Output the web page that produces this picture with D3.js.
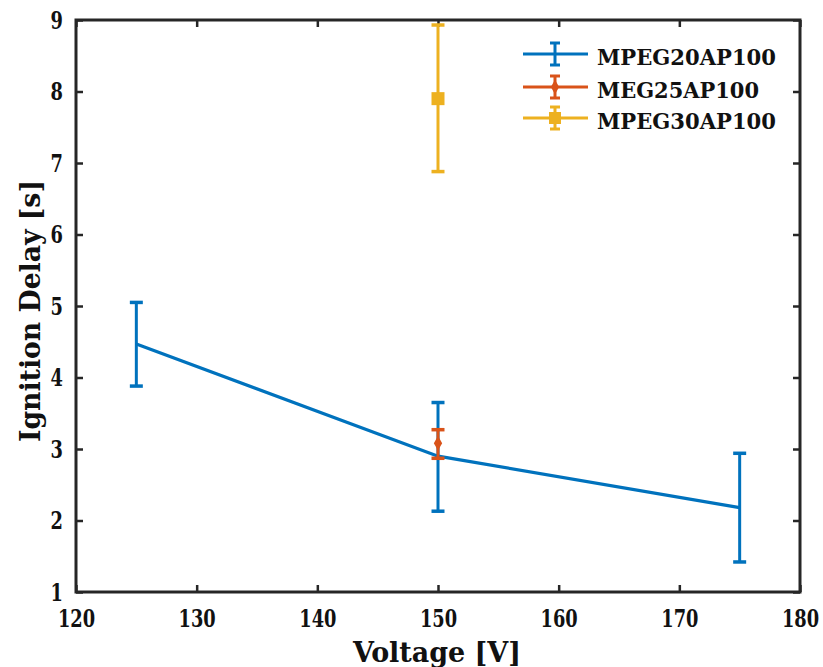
<!DOCTYPE html>
<html>
<head>
<meta charset="utf-8">
<script src="https://cdn.jsdelivr.net/npm/d3@7"></script>
<style>
  html, body { margin: 0; padding: 0; background: #fff; }
</style>
</head>
<body>
<svg id="chart" width="823" height="667"></svg>
<script>
// Ignition delay vs. voltage, three propellant formulations
const voltages = [125, 150, 175];
const mpeg20Mean = [4.47, 2.90, 2.18];
const mpeg20Lo   = [3.88, 2.13, 1.42];
const mpeg20Hi   = [5.05, 3.65, 2.94];

const meg25Volt = [150];
const meg25Mean = [3.08];
const meg25Lo   = [2.87];
const meg25Hi   = [3.27];

const mpeg30Volt = [150];
const mpeg30Mean = [7.90];
const mpeg30Lo   = [6.88];
const mpeg30Hi   = [8.93];

const seriesNames = ["MPEG20AP100", "MEG25AP100", "MPEG30AP100"];
const xTicks = [120, 130, 140, 150, 160, 170, 180];
const yTicks = [1, 2, 3, 4, 5, 6, 7, 8, 9];

const colors = ["#0072BD", "#D95319", "#EDB120"];
const FONT = "'DejaVu Serif Condensed', 'DejaVu Serif', serif";

const svg = d3.select("#chart");
const plotL = 76, plotR = 800, plotT = 20, plotB = 592;

const x = d3.scaleLinear().domain([120, 180]).range([plotL, plotR]);
const y = d3.scaleLinear().domain([1, 9]).range([plotB, plotT]);

const axisColor = "#262626";
const tickLen = 7;

// Serif glyphs are narrowed to the width of a Times-like face
const digitW = 12.4;
function fitTicks(g) {
  g.selectAll(".tick text")
    .attr("fill", "#111")
    .attr("lengthAdjust", "spacingAndGlyphs")
    .attr("textLength", function () { return this.textContent.length * digitW; });
}

// Axes with inward ticks
const gx = svg.append("g").attr("transform", `translate(0,${plotB})`)
  .call(d3.axisBottom(x).tickValues(xTicks).tickSizeInner(-tickLen).tickSizeOuter(0).tickPadding(17));
const gxTop = svg.append("g").attr("transform", `translate(0,${plotT})`)
  .call(d3.axisTop(x).tickValues(xTicks).tickSizeInner(-tickLen).tickSizeOuter(0).tickFormat(""));
const gy = svg.append("g").attr("transform", `translate(${plotL},0)`)
  .call(d3.axisLeft(y).tickValues(yTicks).tickSizeInner(-tickLen).tickSizeOuter(0).tickPadding(13));
const gyRight = svg.append("g").attr("transform", `translate(${plotR},0)`)
  .call(d3.axisRight(y).tickValues(yTicks).tickSizeInner(-tickLen).tickSizeOuter(0).tickFormat(""));

[gx, gxTop, gy, gyRight].forEach(g => {
  g.attr("font-family", FONT).attr("font-size", 25).attr("font-weight", "bold");
  g.select(".domain").remove();
  g.selectAll(".tick line").attr("stroke", axisColor).attr("stroke-width", 2.5);
  fitTicks(g);
});

// Box frame
svg.append("rect")
  .attr("x", plotL).attr("y", plotT)
  .attr("width", plotR - plotL).attr("height", plotB - plotT)
  .attr("fill", "none").attr("stroke", axisColor).attr("stroke-width", 3);

// Axis titles
svg.append("text")
  .attr("x", 437).attr("y", 662)
  .attr("text-anchor", "middle").attr("fill", "#111")
  .attr("font-family", FONT).attr("font-weight", "bold").attr("font-size", 27)
  .attr("textLength", 168).attr("lengthAdjust", "spacingAndGlyphs")
  .text("Voltage [V]");
svg.append("text")
  .attr("transform", `translate(40,311) rotate(-90)`)
  .attr("text-anchor", "middle").attr("fill", "#111")
  .attr("font-family", FONT).attr("font-weight", "bold").attr("font-size", 27)
  .attr("textLength", 262).attr("lengthAdjust", "spacingAndGlyphs")
  .text("Ignition Delay [s]");

const capHalf = 6.5;
function errorBars(g, xs, lo, hi, color) {
  xs.forEach((v, i) => {
    const cx = x(v);
    g.append("line").attr("x1", cx).attr("x2", cx).attr("y1", y(lo[i])).attr("y2", y(hi[i]))
      .attr("stroke", color).attr("stroke-width", 3);
    [lo[i], hi[i]].forEach(e => {
      g.append("line").attr("x1", cx - capHalf).attr("x2", cx + capHalf)
        .attr("y1", y(e)).attr("y2", y(e))
        .attr("stroke", color).attr("stroke-width", 3.5);
    });
  });
}

const plot = svg.append("g");

// MPEG20AP100: line + error bars
plot.append("path")
  .datum(voltages.map((v, i) => [v, mpeg20Mean[i]]))
  .attr("d", d3.line().x(d => x(d[0])).y(d => y(d[1])))
  .attr("fill", "none").attr("stroke", colors[0]).attr("stroke-width", 3.2);
errorBars(plot, voltages, mpeg20Lo, mpeg20Hi, colors[0]);

// MEG25AP100: diamond marker
errorBars(plot, meg25Volt, meg25Lo, meg25Hi, colors[1]);
plot.selectAll(".m25").data(meg25Volt.map((v, i) => [v, meg25Mean[i]])).enter()
  .append("path").attr("class", "m25")
  .attr("transform", d => `translate(${x(d[0])},${y(d[1])})`)
  .attr("d", d3.symbol(d3.symbolDiamond, 60))
  .attr("fill", colors[1]);

// MPEG30AP100: square marker
errorBars(plot, mpeg30Volt, mpeg30Lo, mpeg30Hi, colors[2]);
plot.selectAll(".m30").data(mpeg30Volt.map((v, i) => [v, mpeg30Mean[i]])).enter()
  .append("rect").attr("class", "m30")
  .attr("x", d => x(d[0]) - 6.5).attr("y", d => y(d[1]) - 6.5)
  .attr("width", 13).attr("height", 13)
  .attr("fill", colors[2]);

// Legend
const legend = svg.append("g");
const rowsY = [54, 87, 118];
const nameW = [179, 162, 179];
seriesNames.forEach((name, i) => {
  const ly = rowsY[i];
  const c = colors[i];
  legend.append("line").attr("x1", 523).attr("x2", 588).attr("y1", ly).attr("y2", ly)
    .attr("stroke", c).attr("stroke-width", 3);
  legend.append("line").attr("x1", 555).attr("x2", 555).attr("y1", ly - 11).attr("y2", ly + 11)
    .attr("stroke", c).attr("stroke-width", 3);
  [ly - 11, ly + 11].forEach(cy => legend.append("line")
    .attr("x1", 550).attr("x2", 560).attr("y1", cy).attr("y2", cy)
    .attr("stroke", c).attr("stroke-width", 3));
  if (i === 1) {
    legend.append("path").attr("transform", `translate(555,${ly})`)
      .attr("d", d3.symbol(d3.symbolDiamond, 60)).attr("fill", c);
  } else if (i === 2) {
    legend.append("rect").attr("x", 549).attr("y", ly - 6).attr("width", 12).attr("height", 12).attr("fill", c);
  }
  legend.append("text").attr("x", 597).attr("y", ly + 11)
    .attr("font-family", FONT).attr("font-weight", "bold").attr("font-size", 23)
    .attr("textLength", nameW[i]).attr("lengthAdjust", "spacingAndGlyphs")
    .attr("fill", "#111").text(name);
});
</script>
</body>
</html>
